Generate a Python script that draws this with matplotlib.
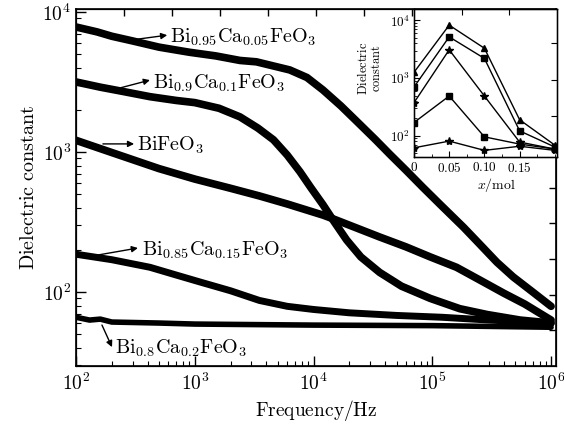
import numpy as np
import matplotlib
matplotlib.use('Agg')
import matplotlib.pyplot as plt
from matplotlib.ticker import FuncFormatter, LogLocator, NullFormatter, FixedLocator, MultipleLocator

plt.rcParams['mathtext.fontset'] = 'cm'
plt.rcParams['font.family'] = ['DejaVu Serif']

# ---- main curves ----
f_005 = [100, 150, 200, 300, 500, 900, 1500, 2400, 3300, 6300, 8800, 12000, 17000, 23000,
         33000, 44000, 60000, 83000, 117000, 183000, 250000, 350000, 480000, 700000, 1000000]
e_005 = [7800, 7200, 6700, 6200, 5600, 5150, 4850, 4500, 4400, 3850, 3400, 2770, 2130, 1660,
         1230, 960, 740, 560, 420, 290, 220, 163, 128, 100, 79]

f_01 = [100, 160, 250, 420, 700, 1000, 1600, 2400, 3400, 4600, 6000, 7700, 9500, 12000,
        15000, 19000, 25000, 36000, 55000, 96000, 170000, 290000, 550000, 1000000]
e_01 = [3160, 2900, 2700, 2480, 2330, 2250, 2050, 1780, 1480, 1220, 950, 720, 555, 420,
        315, 235, 178, 138, 110, 90, 76, 69, 63, 60]

f_0 = [100, 200, 500, 1000, 2000, 3500, 6000, 12000, 15000, 36000, 60000, 96000,
       160000, 250000, 400000, 600000, 1000000]
e_0 = [1210, 990, 760, 640, 550, 485, 425, 354, 330, 247, 210, 178, 150, 122, 98, 82, 63]

f_015 = [100, 200, 420, 700, 1100, 2000, 3500, 6000, 10000, 20000, 50000, 120000, 300000, 1000000]
e_015 = [186, 170, 150, 132, 118, 102, 87, 79, 75, 71, 68, 66, 63, 60]

f_02 = [100, 130, 160, 200, 500, 1000, 10000, 100000, 1000000]
e_02 = [66, 63, 64, 61, 60, 59, 58, 57.5, 56]

# ---- inset: dielectric constant vs x at fixed frequencies ----
x_mol = [0, 0.05, 0.10, 0.15, 0.20]
in_100 = [1260, 8300, 3300, 190, 69]
in_1k = [700, 5200, 2200, 122, 64]
in_10k = [375, 3100, 490, 78, 59]
in_100k = [170, 490, 96, 72, 59]
in_1M = [62, 81, 56, 66, 56]

fig = plt.figure(figsize=(5.64, 4.26), dpi=100)
ax = fig.add_axes([0.1348, 0.1408, 0.8510, 0.8369])

ax.plot(f_005, e_005, color='k', lw=5.5, solid_capstyle='round', solid_joinstyle='round')
ax.plot(f_01, e_01, color='k', lw=5.5, solid_capstyle='round', solid_joinstyle='round')
ax.plot(f_0, e_0, color='k', lw=5.5, solid_capstyle='round', solid_joinstyle='round')
ax.plot(f_015, e_015, color='k', lw=5, solid_capstyle='round', solid_joinstyle='round')
ax.plot(f_02, e_02, color='k', lw=4, solid_capstyle='round', solid_joinstyle='round')

ax.set_xscale('log')
ax.set_yscale('log')
ax.set_xlim(100, 1.1e6)
ax.set_ylim(29.6, 1.04e4)

fmt = FuncFormatter(lambda v, p: r'$10^{%d}$' % round(np.log10(v)))
ax.xaxis.set_major_formatter(fmt)
ax.yaxis.set_major_formatter(fmt)
ax.xaxis.set_minor_formatter(NullFormatter())
ax.yaxis.set_minor_formatter(NullFormatter())
ax.yaxis.set_major_locator(LogLocator(base=10, numticks=10))
ax.tick_params(which='major', direction='in', length=7, width=1, labelsize=14)
ax.tick_params(which='minor', direction='in', length=3.5, width=0.8)
ax.tick_params(axis='x', pad=5)
for s in ax.spines.values():
    s.set_linewidth(1.2)

ax.set_xlabel(r'$\mathrm{Frequency/Hz}$', fontsize=14, labelpad=3)
ax.set_ylabel(r'$\mathrm{Dielectric\ constant}$', fontsize=14.5, labelpad=3)

# top / right ticks (plain linear divisions)
axt = ax.twiny()
axt.set_xlim(0, 1)
axt.xaxis.set_major_locator(FixedLocator(np.arange(0.1, 1.0, 0.1)))
axt.tick_params(axis='x', direction='in', length=5, width=1, labeltop=False)
axr = ax.twinx()
axr.set_ylim(0, 1)
axr.yaxis.set_major_locator(FixedLocator(np.arange(0.1, 1.0, 0.1)))
axr.tick_params(axis='y', direction='in', length=5, width=1, labelright=False)

# labels with arrows
labels = [r'$\mathrm{Bi_{0.95}Ca_{0.05}FeO_3}$', r'$\mathrm{Bi_{0.9}Ca_{0.1}FeO_3}$',
          r'$\mathrm{BiFeO_3}$', r'$\mathrm{Bi_{0.85}Ca_{0.15}FeO_3}$', r'$\mathrm{Bi_{0.8}Ca_{0.2}FeO_3}$']
text_pos = [(0.196, 0.923), (0.160, 0.794), (0.127, 0.620), (0.1375, 0.325), (0.081, 0.050)]
arr_tail = [(0.1125, 0.914), (0.0917, 0.780), (0.056, 0.623), (0.044, 0.311), (0.054, 0.115)]
arr_head = [(0.190, 0.928), (0.154, 0.802), (0.121, 0.623), (0.129, 0.331), (0.075, 0.053)]
for lab, tp, t0, h0 in zip(labels, text_pos, arr_tail, arr_head):
    ax.text(tp[0], tp[1], lab, transform=ax.transAxes, fontsize=14.5, ha='left', va='center')
    ax.annotate('', xy=h0, xytext=t0, xycoords='axes fraction', textcoords='axes fraction',
                arrowprops=dict(arrowstyle='-|>', color='k', lw=1, mutation_scale=9,
                                shrinkA=0, shrinkB=0))

# inset
ins = fig.add_axes([0.734, 0.6315, 0.2535, 0.3462])
ins.set_zorder(5)
ins.plot(x_mol, in_100, 'k-^', lw=1, ms=4.5)
ins.plot(x_mol, in_1k, 'k-s', lw=1, ms=3.8)
ins.plot(x_mol, in_10k, 'k-*', lw=1, ms=6)
ins.plot(x_mol, in_100k, 'k-s', lw=1, ms=3.8)
ins.plot(x_mol, in_1M, 'k-*', lw=1, ms=6)
ins.set_yscale('log')
ins.set_xlim(0, 0.203)
ins.set_ylim(43, 15500)
ins.xaxis.set_major_locator(FixedLocator([0, 0.05, 0.10, 0.15]))
ins.xaxis.set_major_formatter(FuncFormatter(lambda v, p: ['$0$', '$0.05$', '$0.10$', '$0.15$'][p]))
ins.xaxis.set_minor_locator(MultipleLocator(0.025))
ins.yaxis.set_major_locator(LogLocator(base=10, numticks=10))
ins.yaxis.set_major_formatter(fmt)
ins.yaxis.set_minor_formatter(NullFormatter())
ins.tick_params(which='major', direction='in', length=4, width=0.8, labelsize=9.5, pad=3)
ins.tick_params(which='minor', direction='in', length=2, width=0.6)
for s in ins.spines.values():
    s.set_linewidth(1)
ins.set_xlabel(r'$x\mathrm{/mol}$', fontsize=10, labelpad=2)
ins.set_ylabel(r'$\mathrm{Dielectric}$' + '\n' + r'$\mathrm{constant}$', fontsize=9, linespacing=1.0)
ins.xaxis.set_label_coords(0.58, -0.13)
ins.yaxis.set_label_coords(-0.22, 0.6)

inst = ins.twiny()
inst.set_xlim(0, 1)
inst.xaxis.set_major_locator(FixedLocator([1 / 3, 2 / 3]))
inst.tick_params(axis='x', direction='in', length=4, width=0.8, labeltop=False)
insr = ins.twinx()
insr.set_ylim(0, 1)
insr.yaxis.set_major_locator(FixedLocator([0.04, 0.28, 0.52, 0.77]))
insr.tick_params(axis='y', direction='in', length=4, width=0.8, labelright=False)

fig.savefig('out.png', dpi=100)
